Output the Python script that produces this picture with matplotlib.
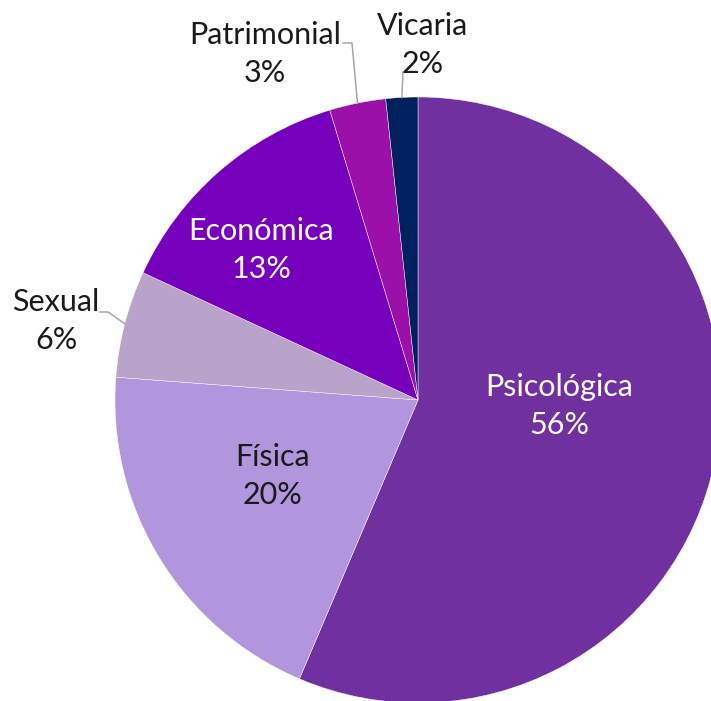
import numpy as np
import matplotlib
matplotlib.use("Agg")
import matplotlib.pyplot as plt

categories = ["Psicológica", "Física", "Sexual", "Económica", "Patrimonial", "Vicaria"]
values = [56.4, 19.8, 5.7, 13.4, 3.0, 1.7]
colors = ["#7030A0", "#B195DD", "#B9A3CA", "#7600BC", "#9A10A8", "#002060"]
text_colors = ["white", "#1a1a1a", "#1a1a1a", "white", "#1a1a1a", "#1a1a1a"]

W, H = 711, 701
CX, CY, R = 418, 400, 303

def px(x, y):
    return (x - CX) / R, (CY - y) / R

plt.rcParams['font.family'] = ['Lato', 'DejaVu Sans']
fig = plt.figure(figsize=(W / 100, H / 100), dpi=100)
ax = fig.add_axes([0, 0, 1, 1])
wedges, _ = ax.pie(values, colors=colors, startangle=90, counterclock=False,
                   radius=1, wedgeprops=dict(edgecolor="white", linewidth=0.3))
ax.set_xlim(px(0, 0)[0], px(W, 0)[0])
ax.set_ylim(px(0, H)[1], px(0, 0)[1])
ax.set_aspect("equal")
ax.axis("off")

label_pos = [(559, 406), (273, 476), (56, 321), (261, 250), (265, 54), (423, 45)]
for cat, v, tc, (lx, ly) in zip(categories, values, text_colors, label_pos):
    x, y = px(lx, ly)
    ax.text(x, y, f"{cat}\n{round(v):d}%", ha="center", va="center",
            color=tc, fontsize=22, linespacing=1.4)

def edge_point(i):
    w = wedges[i]
    mid = np.deg2rad((w.theta1 + w.theta2) / 2)
    return np.cos(mid), np.sin(mid)

lc = "#A6A6A6"
# Sexual
ex, ey = edge_point(2)
p1, p2 = px(100, 312), px(108, 312)
ax.plot([p1[0], p2[0], ex], [p1[1], p2[1], ey], color=lc, lw=1.1)
# Patrimonial
ex, ey = edge_point(4)
p1, p2 = px(343, 43), px(352, 43)
ax.plot([p1[0], p2[0], ex], [p1[1], p2[1], ey], color=lc, lw=1.1)
# Vicaria
ex, ey = edge_point(5)
p1 = px(403, 72)
ax.plot([p1[0], ex], [p1[1], ey], color=lc, lw=1.1)

fig.savefig("out.png", dpi=100)
